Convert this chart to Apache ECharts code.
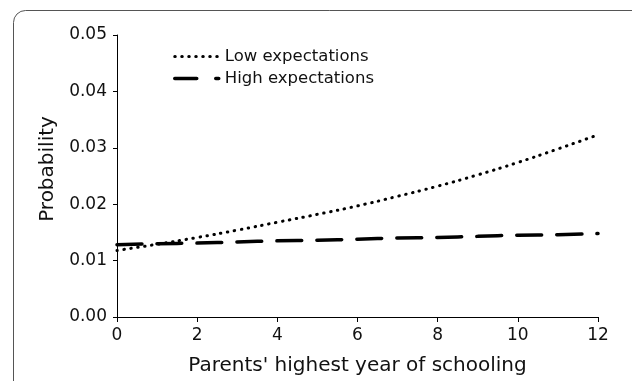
<!DOCTYPE html>
<html>
<head>
<meta charset="utf-8">
<script src="https://cdn.jsdelivr.net/npm/echarts@6/dist/echarts.min.js"></script>
<style>
  html, body { margin: 0; padding: 0; background: #fff; }
  #chart { width: 632px; height: 381px; }
</style>
</head>
<body>
<div id="chart"></div>
<script>
// Parents' highest year of schooling (0–12)
const years = [0, 1, 2, 3, 4, 5, 6, 7, 8, 9, 10, 11, 12];
// Predicted probability by expectation group
const lowExpectations  = [0.0118, 0.0129, 0.0141, 0.0154, 0.0168, 0.0182, 0.0197, 0.0214, 0.0232, 0.0252, 0.0274, 0.0298, 0.0323];
const highExpectations = [0.0128, 0.0130, 0.0131, 0.0133, 0.0135, 0.0136, 0.0138, 0.0140, 0.0141, 0.0143, 0.0145, 0.0146, 0.0148];
const seriesNames = ['Low expectations', 'High expectations'];

const FONT = 'DejaVu Sans';
const INK = '#111';
const dotted = { color: '#000', width: 3, type: [0.5, 6.5], cap: 'round' };
const dashed = { color: '#000', width: 3.5, type: [25, 15], cap: 'round' };

const chart = echarts.init(document.getElementById('chart'), null, { renderer: 'canvas' });

chart.setOption({
  animation: false,
  backgroundColor: '#fff',
  textStyle: { fontFamily: FONT, color: INK },
  graphic: [{
    // rounded panel frame
    type: 'rect',
    shape: { x: 13.5, y: 10.5, width: 700, height: 500, r: 12 },
    style: { fill: 'none', stroke: '#555', lineWidth: 1 },
    silent: true, z: -1
  }],
  legend: {
    orient: 'vertical',
    left: 173, top: 48, padding: 0,
    itemWidth: 44, itemHeight: 14, itemGap: 5,
    textStyle: { fontFamily: FONT, fontSize: 16.5, color: INK, padding: [0, 0, 0, 1] },
    data: [
      { name: seriesNames[0], itemStyle: { opacity: 0 },
        lineStyle: { type: [0.5, 6.5], width: 3, cap: 'round', color: '#000' } },
      { name: seriesNames[1], itemStyle: { opacity: 0 },
        lineStyle: { type: [22, 19], width: 3.5, cap: 'round', color: '#000' } }
    ]
  },
  grid: { left: 117, right: 34, top: 35, bottom: 57, containLabel: false },
  xAxis: {
    type: 'value', min: 0, max: 12, interval: 2,
    name: "Parents' highest year of schooling",
    nameLocation: 'middle', nameGap: 39,
    nameTextStyle: { fontFamily: FONT, fontSize: 20, color: INK },
    axisLine: { lineStyle: { color: '#000', width: 1 } },
    axisTick: { show: true, length: 5, lineStyle: { color: '#000' } },
    axisLabel: { fontFamily: FONT, fontSize: 17, color: INK, margin: 10 },
    splitLine: { show: false }
  },
  yAxis: {
    type: 'value', min: 0, max: 0.05, interval: 0.01,
    name: 'Probability',
    nameLocation: 'middle', nameGap: 55,
    nameTextStyle: { fontFamily: FONT, fontSize: 20, color: INK, padding: [0, 0, 0, 14] },
    axisLine: { show: true, lineStyle: { color: '#000', width: 1 } },
    axisTick: { show: true, length: 4, lineStyle: { color: '#000' } },
    axisLabel: {
      fontFamily: FONT, fontSize: 17, color: INK, margin: 10,
      formatter: v => v.toFixed(2)
    },
    splitLine: { show: false }
  },
  series: [
    {
      name: seriesNames[0],
      type: 'line',
      smooth: true,
      symbol: 'none',
      data: years.map((x, i) => [x, lowExpectations[i]]),
      lineStyle: dotted,
      itemStyle: { color: '#000' }
    },
    {
      name: seriesNames[1],
      type: 'line',
      smooth: true,
      symbol: 'none',
      data: years.map((x, i) => [x, highExpectations[i]]),
      lineStyle: dashed,
      itemStyle: { color: '#000' }
    }
  ]
});
</script>
</body>
</html>
